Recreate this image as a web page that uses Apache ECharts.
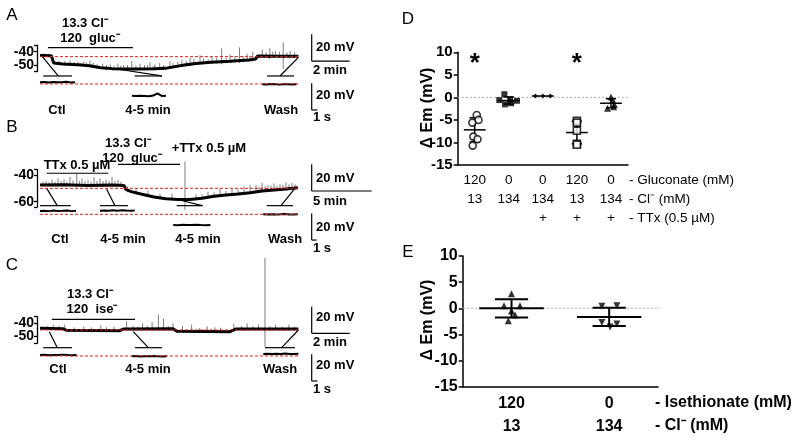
<!DOCTYPE html>
<html>
<head>
<meta charset="utf-8">
<script src="https://cdn.jsdelivr.net/npm/echarts@6.0.0/dist/echarts.min.js"></script>
<style>
html,body{margin:0;padding:0;background:#fff;}
#chart{width:800px;height:440px;}
</style>
</head>
<body>
<div id="chart"></div>
<script>
// ================= DATA =================
// Panel A: Em trace (time in min, Em in mV)
const traceA_t = [0, 0.6, 0.72, 1.2, 2.0, 2.6, 3.2, 3.8, 5.0, 6.0, 6.6, 7.1, 7.6, 8.2, 9.0, 10.0, 11.0, 11.35, 11.45, 12.5, 13.6];
const traceA_v = [-42.8, -43.0, -48.5, -49.2, -49.8, -50.5, -52.0, -52.7, -53.0, -52.8, -52.5, -51.2, -50.0, -48.8, -48.0, -47.2, -46.3, -45.5, -43.3, -43.4, -43.5];
// spontaneous events: [time, top mV, bottom mV]
const spikesA = [[0.2,-41.0,-44.0],[0.45,-41.5,-43.8],[1.0,-46.8,-50.0],[1.3,-47.0,-50.5],[1.58,-46.5,-50.5],[1.8,-47.8,-51.0],[2.0,-47.5,-51.0],[2.15,-48.5,-51.0],[2.3,-47.5,-51.0],[2.45,-48.0,-51.5],[2.63,-46.5,-51.5],[2.8,-48.0,-52.0],[3.0,-49.5,-52.5],[3.3,-49.0,-53.0],[3.5,-50.0,-54.0],[3.7,-49.5,-53.5],[3.9,-50.5,-54.0],[4.1,-49.0,-54.0],[4.25,-50.5,-54.0],[4.4,-50.0,-54.0],[4.6,-50.0,-54.0],[4.83,-47.0,-54.0],[5.05,-50.5,-54.0],[5.26,-49.0,-54.0],[5.5,-50.0,-54.0],[5.65,-50.0,-54.0],[5.79,-48.0,-54.0],[5.95,-50.5,-54.0],[6.05,-49.5,-54.0],[6.3,-48.5,-53.5],[6.5,-50.0,-53.5],[6.84,-47.0,-53.0],[7.0,-48.5,-52.5],[7.25,-47.5,-52.0],[7.47,-46.0,-51.3],[7.7,-47.0,-51.0],[7.9,-44.5,-51.0],[8.1,-45.5,-50.0],[8.42,-42.5,-49.5],[8.6,-45.0,-49.5],[8.85,-45.5,-49.3],[9.05,-44.0,-49.0],[9.3,-44.5,-49.0],[9.56,-37.6,-49.5],[9.8,-44.5,-48.5],[10.0,-42.0,-48.2],[10.25,-43.5,-48.0],[10.5,-36.7,-48.5],[10.7,-43.5,-47.5],[10.9,-41.5,-47.5],[11.05,-43.0,-47.3],[11.2,-40.0,-47.3],[11.7,-38.5,-44.5],[11.9,-40.5,-44.5],[12.1,-37.5,-45.5],[12.25,-40.0,-44.5],[12.4,-39.5,-44.5],[12.6,-40.0,-44.5],[12.8,-33.0,-53.0],[13.0,-40.5,-44.5],[13.16,-39.5,-44.5],[13.4,-40.5,-44.5]];
const insetA_ctl  = [-42.5,-42.3,-42.6,-42.2,-42.5,-42.4,-42.1,-42.6,-42.4];
const insetA_mid  = [-52.6,-52.8,-52.5,-52.7,-52.9,-52.4,-50.8,-52.7,-52.6];
const insetA_wash = [-43.9,-44.1,-43.8,-44.0,-44.2,-43.9,-44.0,-44.1,-43.9];
const baseA = -43.7;

// Panel B
const traceB_t = [0, 2, 4, 6, 7.0, 7.15, 7.6, 8.5, 9.5, 10.5, 11.5, 12.5, 13.5, 14.5, 15.5, 16.5, 17.5, 18.5, 19.5, 20.5, 21.5];
const traceB_v = [-47.5, -47.3, -47.8, -47.5, -47.8, -50.8, -52.5, -54.5, -56.5, -57.8, -58.3, -58.3, -57.5, -56.0, -55.0, -54.3, -53.3, -52.0, -51.3, -50.5, -49.5];
const spikesB = [[0.25,-45.0,-48.5],[0.5,-44.5,-48.5],[0.75,-45.5,-48.5],[1.0,-43.5,-48.5],[1.25,-45.0,-48.5],[1.5,-42.5,-48.5],[1.75,-44.5,-48.5],[2.0,-43.3,-48.5],[2.25,-45.0,-48.5],[2.5,-41.5,-48.5],[2.75,-44.0,-48.5],[3.06,-38.5,-49.0],[3.3,-44.5,-48.5],[3.5,-42.5,-48.5],[3.75,-44.5,-49.0],[4.0,-43.8,-49.0],[4.25,-45.0,-49.0],[4.5,-41.5,-49.0],[4.75,-44.5,-49.0],[5.0,-42.5,-48.5],[5.25,-44.5,-48.5],[5.5,-43.5,-48.5],[5.75,-44.5,-48.5],[6.0,-41.5,-48.5],[6.25,-44.5,-48.5],[6.5,-43.5,-48.5],[6.75,-45.0,-48.5],[7.3,-48.5,-53.0],[8.0,-50.5,-54.5],[9.0,-51.5,-56.5],[10.0,-54.0,-58.0],[11.0,-54.0,-59.0],[12.08,-30.0,-66.3],[13.0,-54.5,-58.8],[13.5,-54.5,-58.5],[14.0,-52.5,-57.5],[14.5,-53.0,-57.0],[15.0,-50.0,-56.5],[15.5,-52.0,-56.0],[16.0,-50.5,-55.5],[16.5,-51.0,-55.0],[17.0,-48.5,-54.8],[17.5,-47.3,-54.3],[18.0,-47.5,-53.5],[18.25,-49.0,-53.0],[18.5,-46.0,-53.0],[18.75,-48.5,-52.5],[19.0,-47.5,-52.5],[19.25,-48.0,-52.3],[19.5,-46.3,-52.3],[19.75,-48.0,-52.0],[20.0,-47.0,-51.5],[20.25,-47.5,-51.5],[20.5,-45.5,-51.5],[20.75,-47.0,-51.0],[21.0,-46.0,-50.5],[21.25,-47.0,-50.5]];
const insetB_ctl  = [-47.5,-47.3,-47.6,-47.2,-47.5,-47.4,-47.1,-47.6,-47.4];
const insetB_ttx  = [-47.3,-47.1,-47.4,-47.0,-47.3,-46.9,-47.2,-47.4,-47.2];
const insetB_mid  = [-58.0,-58.2,-57.9,-58.1,-58.0,-57.8,-58.1,-58.2,-58.0];
const insetB_wash = [-50.0,-50.2,-49.9,-50.1,-50.0,-49.8,-50.1,-50.2,-50.0];
const baseB = -50.0;

// Panel C
const traceC_t = [0, 1.2, 1.4, 4.2, 4.4, 7.0, 7.2, 10.0, 10.3, 13.6];
const traceC_v = [-43.8, -44.0, -45.3, -45.5, -44.2, -44.0, -46.0, -46.3, -44.3, -44.2];
const spikesC = [[0.4,-42.0,-45.0],[0.7,-41.0,-45.0],[1.0,-42.0,-45.0],[1.3,-41.0,-45.0],[1.8,-43.0,-46.5],[2.3,-42.5,-46.5],[2.7,-43.0,-46.5],[3.2,-41.5,-46.5],[3.5,-43.0,-46.5],[3.9,-42.5,-46.5],[4.56,-38.5,-45.5],[4.9,-42.0,-45.5],[5.15,-42.5,-45.0],[5.4,-40.0,-45.0],[5.65,-42.0,-45.0],[5.9,-39.0,-45.0],[6.23,-33.3,-45.5],[6.5,-36.5,-45.0],[6.75,-42.0,-45.0],[7.0,-40.0,-45.0],[7.5,-42.0,-47.0],[7.98,-41.0,-47.3],[8.4,-43.5,-47.3],[8.8,-42.3,-47.3],[9.2,-43.0,-47.3],[9.5,-43.3,-47.3],[10.2,-40.3,-45.3],[10.6,-42.0,-45.3],[10.9,-40.0,-45.2],[11.2,-42.0,-45.2],[11.5,-41.0,-45.2],[11.84,9.0,-57.5],[12.1,-42.0,-45.2],[12.4,-41.2,-45.2],[12.75,-42.5,-45.2],[13.1,-41.0,-45.2],[13.4,-42.5,-45.2]];
const insetC_ctl  = [-44.3,-44.1,-44.4,-44.2,-44.3,-44.0,-44.3,-44.4,-44.2];
const insetC_mid  = [-45.3,-45.1,-45.4,-45.2,-45.3,-45.0,-45.3,-45.4,-45.2];
const insetC_wash = [-43.5,-43.3,-43.6,-43.4,-43.5,-43.2,-43.5,-43.6,-43.4];
const baseC = -45.0;

// Mini Em axes tick labels (mV)
const tickLabelsA = [-40, -50];
const tickLabelsB = [-40, -60];
const tickLabelsC = [-40, -50];

// Panel D: change in Em (mV)
const dCategories = ['120\n13\n', '0\n134\n', '0\n134\n+', '120\n13\n+', '0\n134\n+'];
const dRowLabels = ['- Gluconate (mM)', '- Cl\u207B (mM)', '- TTx (0.5 \u00B5M)'];
const dGluc    = [-3.9, -5.0, -5.6, -8.7, -9.3, -10.7];
const dCl      = [0.7, -0.6, -0.45, -0.75, -1.55, -1.3];
const dCl_TTx  = [0.3, 0.3, 0.3];
const dGluc_TTx= [-5.2, -5.6, -7.4, -10.3, -10.5];
const dCl_TTx2 = [0.1, -0.6, -1.6, -2.1, -2.4];
const dMean = [-7.2, -0.7, 0.3, -7.8, -1.3];
const dSd   = [2.7, 0.8, 0, 2.5, 1.0];
const dSignif = [0, 3];

// Panel E
const eCategories = ['120\n13', '0\n134'];
const eRowLabels = ['- Isethionate (mM)', '- Cl\u207B (mM)'];
const eIse = [2.8, 0.5, 0.5, -0.5, -1.3, -2.4];
const eCl  = [0.4, 0.5, -2.7, -3.0, -3.6];
const eMean = [0.0, -1.65];
const eSd   = [1.75, 1.75];

// ================= LAYOUT / STYLE =================
const F = '"Liberation Sans", Arial, Helvetica, sans-serif';
const L = {
  A: {x0:40, pxPerMin:19, yRefPx:51.7, yRefMv:-40, pxPerMv:1.333, left:36, right:385, top:28, bottom:125},
  B: {x0:40, pxPerMin:12, yRefPx:175, yRefMv:-40, pxPerMv:1.333, left:36, right:385, top:140, bottom:252},
  C: {x0:40, pxPerMin:19, yRefPx:323.3, yRefMv:-40, pxPerMv:1.333, left:36, right:385, top:252, bottom:395}
};
const insetOffset = {A:-20.5, B:-19.5, C:-19.5};
const insetSpans = {
  A: [[0,1.84],[4.84,6.63],[11.7,13.5]],
  B: [[0,3.0],[5.0,7.9],[11.1,14.2],[18.6,21.5]],
  C: [[0,1.93],[4.83,6.67],[11.75,13.6]]
};
// annotation segments [t1, mV1, t2, mV2] (solution bars, inset brackets, connectors, scale bars)
const annot = {
  A: [[0.42,-37,4.89,-37],
      [0.17,-58.2,1.68,-58.2],[4.98,-58.2,6.42,-58.2],[11.95,-58.2,13.37,-58.2],
      [0.09,-43.2,0.96,-58.2],[4.04,-53,6.4,-58.2],[13.6,-44.2,12.63,-58.2],
      [14.3,-27,14.3,-47],[14.3,-47,16.3,-47],
      [14.3,-63.7,14.3,-83.7],[14.3,-83.7,14.6,-83.7]],
  B: [[0.56,-38.7,5.69,-38.7],[6.5,-32,11.67,-32],
      [0,-63,2.56,-63],[5,-63,7.33,-63],[11.39,-63,13.58,-63],[18.89,-63,21.08,-63],
      [0.56,-50,1.44,-63],[5.56,-50.7,6.25,-63],[11.5,-58.4,13.5,-63],[21.25,-50,20.08,-63],
      [22.64,-32,22.64,-52],[22.64,-52,27.64,-52],
      [22.64,-68.8,22.64,-88.8],[22.64,-88.8,23.05,-88.8]],
  C: [[0.62,-37,5.0,-37],
      [0.17,-58.3,1.68,-58.3],[5,-58.3,6.42,-58.3],[11.84,-58.3,13.42,-58.3],
      [0.49,-46.3,0.91,-58.3],[4.91,-46.3,5.7,-58.3],[13.6,-45,12.72,-58.3],
      [14.3,-27.5,14.3,-47.5],[14.3,-47.5,16.3,-47.5],
      [14.3,-63.3,14.3,-83.3],[14.3,-83.3,14.6,-83.3]]
};

function gridOf(p){ return {left:p.left, top:p.top, width:p.right-p.left, height:p.bottom-p.top}; }
function xRange(p){ return [(p.left-p.x0)/p.pxPerMin, (p.right-p.x0)/p.pxPerMin]; }
function yRange(p){ return [p.yRefMv-(p.bottom-p.yRefPx)/p.pxPerMv, p.yRefMv+(p.yRefPx-p.top)/p.pxPerMv]; }
function mvToPx(p, v){ return p.yRefPx-(v-p.yRefMv)*p.pxPerMv; }
function miniGrid(p, lo, hi){
  const top = mvToPx(p, hi), bot = mvToPx(p, lo);
  return {left:37, width:1, top:top, height:bot-top};
}
const zip = (a,b)=>a.map((v,i)=>[v,b[i]]);

const grids = [gridOf(L.A), gridOf(L.B), gridOf(L.C),
  miniGrid(L.A,-55,-35), miniGrid(L.B,-64,-36), miniGrid(L.C,-55,-35),
  {left:457.7, top:52.3, width:170.3, height:112.7},
  {left:462.7, top:256, width:195.3, height:130.7}];

const xAxes = [], yAxes = [];
['A','B','C'].forEach((k,i)=>{
  const xr = xRange(L[k]), yr = yRange(L[k]);
  xAxes.push({gridIndex:i, type:'value', min:xr[0], max:xr[1], show:false});
  yAxes.push({gridIndex:i, type:'value', min:yr[0], max:yr[1], show:false});
});
const miniSpec = [[-55,-35,[-35,-40,-50,-55]],[-64,-36,[-36,-40,-60,-64]],[-55,-35,[-35,-40,-50,-55]]];
miniSpec.forEach((m,i)=>{
  xAxes.push({gridIndex:3+i, type:'value', min:0, max:1, show:false});
  yAxes.push({gridIndex:3+i, type:'value', min:m[0], max:m[1], position:'left',
    axisLine:{show:true, onZero:false, lineStyle:{color:'#000', width:1.3}},
    axisTick:{show:true, length:3, customValues:m[2], lineStyle:{color:'#000', width:1.3}},
    axisLabel:{show:false}, splitLine:{show:false}});
});
// D axes
xAxes.push({gridIndex:6, type:'category', position:'bottom', data:dCategories, boundaryGap:true,
  axisLine:{onZero:false, lineStyle:{color:'#000', width:1.5}}, axisTick:{show:false},
  axisLabel:{interval:0, color:'#000', fontSize:13.5, fontFamily:F, lineHeight:19, margin:6}});
xAxes.push({gridIndex:6, type:'value', min:-0.5, max:4.5, show:false});
yAxes.push({gridIndex:6, type:'value', min:-15, max:10, interval:5,
  axisLine:{show:true, onZero:false, lineStyle:{color:'#000', width:1.5}},
  axisTick:{show:true, length:4, lineStyle:{color:'#000', width:1.5}},
  axisLabel:{color:'#000', fontSize:15, fontWeight:'bold', fontFamily:F, margin:5}, splitLine:{show:false}});
// E axes
xAxes.push({gridIndex:7, type:'category', position:'bottom', data:eCategories, boundaryGap:true,
  axisLine:{onZero:false, lineStyle:{color:'#000', width:1.5}}, axisTick:{show:false},
  axisLabel:{interval:0, color:'#000', fontSize:16, fontWeight:'bold', fontFamily:F, lineHeight:23, margin:5}});
xAxes.push({gridIndex:7, type:'value', min:-0.5, max:1.5, show:false});
yAxes.push({gridIndex:7, type:'value', min:-15, max:10, interval:5,
  axisLine:{show:true, onZero:false, lineStyle:{color:'#000', width:1.5}},
  axisTick:{show:true, length:4, lineStyle:{color:'#000', width:1.5}},
  axisLabel:{color:'#000', fontSize:16, fontWeight:'bold', fontFamily:F, margin:5}, splitLine:{show:false}});

const series = [];
function segSeries(ai, segs, color, width, z){
  return {type:'custom', xAxisIndex:ai, yAxisIndex:ai, silent:true, z:z||4, data:segs,
    renderItem:(p,api)=>{
      const a = api.coord([api.value(0), api.value(1)]), b = api.coord([api.value(2), api.value(3)]);
      return {type:'line', shape:{x1:a[0],y1:a[1],x2:b[0],y2:b[1]}, style:{stroke:color, lineWidth:width}};
    }};
}
function spikeSeries(ai, spikes){
  return {type:'custom', xAxisIndex:ai, yAxisIndex:ai, silent:true, z:2, data:spikes,
    renderItem:(p,api)=>{
      const a = api.coord([api.value(0), api.value(1)]), b = api.coord([api.value(0), api.value(2)]);
      return {type:'line', shape:{x1:a[0],y1:a[1],x2:b[0],y2:b[1]}, style:{stroke:'#707070', lineWidth:0.9}};
    }};
}
function lineSeries(ai, data, color, width, z, type){
  return {type:'line', xAxisIndex:ai, yAxisIndex:ai, data:data, symbol:'none', silent:true, clip:false, z:z||3,
    lineStyle:{color:color, width:width, type:type||'solid'}, animation:false};
}
const panels = [
  ['A', traceA_t, traceA_v, spikesA, [insetA_ctl, insetA_mid, insetA_wash], baseA],
  ['B', traceB_t, traceB_v, spikesB, [insetB_ctl, insetB_ttx, insetB_mid, insetB_wash], baseB],
  ['C', traceC_t, traceC_v, spikesC, [insetC_ctl, insetC_mid, insetC_wash], baseC]
];
panels.forEach((pn, ai)=>{
  const k = pn[0];
  const tr = zip(pn[1], pn[2]);
  const endT = pn[1][pn[1].length-1];
  series.push(spikeSeries(ai, pn[3]));
  series.push(lineSeries(ai, tr, '#000', 3, 3));
  series.push(segSeries(ai, annot[k], '#000', 1.2, 4));
  pn[4].forEach((vals, j)=>{
    const sp = insetSpans[k][j];
    const d = vals.map((v,i)=>[sp[0]+(sp[1]-sp[0])*i/(vals.length-1), v+insetOffset[k]]);
    series.push(lineSeries(ai, d, '#000', 2, 3));
  });
  series.push(lineSeries(ai, [[0,pn[5]],[endT,pn[5]]], '#e0201c', 1, 5, [3,2]));
  series.push(lineSeries(ai, [[0,pn[5]+insetOffset[k]],[endT,pn[5]+insetOffset[k]]], '#e0201c', 1, 5, [3,2]));
});

// D / E scatter + stats
function statsSeries(xi, yi, means, sds, meanHW, capHW, lw){
  return {type:'custom', xAxisIndex:xi, yAxisIndex:yi, silent:true, z:3,
    data: means.map((m,i)=>[i,m,sds[i]]),
    renderItem:(p,api)=>{
      const i=api.value(0), m=api.value(1), s=api.value(2);
      const c=(x,y)=>api.coord([x,y]);
      const ln=(a,b)=>({type:'line', shape:{x1:a[0],y1:a[1],x2:b[0],y2:b[1]}, style:{stroke:'#000', lineWidth:lw}});
      const ch=[ln(c(i-meanHW,m), c(i+meanHW,m))];
      if (s>0){ ch.push(ln(c(i,m-s),c(i,m+s)), ln(c(i-capHW,m+s),c(i+capHW,m+s)), ln(c(i-capHW,m-s),c(i+capHW,m-s))); }
      return {type:'group', children:ch};
    }};
}
function scatter(xi, yi, g, vals, jitter, symbol, size, open, rotate){
  return {type:'scatter', xAxisIndex:xi, yAxisIndex:yi, z:4, silent:true,
    data: vals.map((v,i)=>[g+jitter[i], v]), symbol:symbol, symbolSize:size, symbolRotate:rotate||0,
    itemStyle: open ? {color:'#fff', borderColor:'#000', borderWidth:1.6} : {color:'#000'}};
}
const dJit1 = [0.06,0.11,-0.07,-0.04,0.08,-0.06];
const dJit2 = [-0.13,-0.28,0.04,0.24,-0.11,0.07];
const dJit3 = [-0.22,0,0.22];
const dJit4 = [0,0,0,0,0];
const dJit5 = [0,0.05,0.1,0.08,-0.1];
const eJit1 = [0,-0.077,0.087,0,0.036,-0.033];
const eJit2 = [-0.075,0.079,-0.075,0.079,0.01];

series.push({type:'line', xAxisIndex:7, yAxisIndex:6, data:[[-0.5,0],[4.5,0]], symbol:'none', silent:true, z:1,
  lineStyle:{color:'#aaa', width:1, type:[2,2]}});
series.push(statsSeries(7,6,dMean,dSd,0.32,0.15,1.5));
series.push(scatter(7,6,0,dGluc,dJit1,'circle',7,true));
series.push(scatter(7,6,1,dCl,dJit2,'rect',6,false));
series.push(scatter(7,6,2,dCl_TTx,dJit3,'diamond',5,false));
series.push(scatter(7,6,3,dGluc_TTx,dJit4,'rect',7,true));
series.push(scatter(7,6,4,dCl_TTx2,dJit5,'triangle',7,false));
series.push({type:'custom', xAxisIndex:7, yAxisIndex:6, silent:true, z:5,
  data: dSignif.map(g=>[g, 8.7]),
  renderItem:(p,api)=>{ const c=api.coord([api.value(0), api.value(1)]);
    return {type:'text', x:c[0], y:c[1]+6, style:{text:'*', font:'bold 26px '+F, fill:'#000', align:'center', verticalAlign:'middle'}}; }});

series.push({type:'line', xAxisIndex:9, yAxisIndex:7, data:[[-0.5,0],[1.55,0]], symbol:'none', silent:true, z:1, clip:false,
  lineStyle:{color:'#aaa', width:1, type:[2,2]}});
series.push(statsSeries(9,7,eMean,eSd,0.33,0.17,2));
series.push(scatter(9,7,0,eIse,eJit1,'triangle',7,false));
series.push(scatter(9,7,1,eCl,eJit2,'triangle',7,false,180));

// text annotations
function txt(text, x, y, size, weight, align, rot){
  const o = {type:'text', x:x, y:y, silent:true, z:10,
    style:{text:text, font:(weight||'bold')+' '+size+'px '+F, fill:'#000', align:align||'center', verticalAlign:'middle'}};
  if (rot) o.rotation = rot;
  return o;
}
const graphic = [
  txt('A',12,15,17,'normal'), txt('B',12,127,17,'normal'), txt('C',12,265,17,'normal'),
  txt('D',408,19,17,'normal'), txt('E',408,252,17,'normal'),
  // A
  txt('13.3 Cl\u207B',85,23,13), txt('120  gluc\u207B',90,38,13),
  txt('Ctl',57,110,13), txt('4-5 min',148,110,13), txt('Wash',281,110,13),
  txt('20 mV',316,47,13,'bold','left'), txt('2 min',313,70,13,'bold','left'),
  txt('20 mV',316,95,13,'bold','left'), txt('1 s',313,117,13,'bold','left'),
  // B
  txt('13.3 Cl\u207B',128,143,13), txt('120  gluc\u207B',132,158,13), txt('+TTx 0.5 \u00B5M',209,148,13),
  txt('TTx 0.5 \u00B5M',77,165,13),
  txt('Ctl',60,239,13), txt('4-5 min',123,239,13), txt('4-5 min',198,239,13), txt('Wash',285,239,13),
  txt('20 mV',316,178,13,'bold','left'), txt('5 min',313,201,13,'bold','left'),
  txt('20 mV',316,227,13,'bold','left'), txt('1 s',313,248,13,'bold','left'),
  // C
  txt('13.3 Cl\u207B',90,294,13), txt('120  ise\u207B',92,309,13),
  txt('Ctl',58,369,13), txt('4-5 min',148,369,13), txt('Wash',280,369,13),
  txt('20 mV',316,317,13,'bold','left'), txt('2 min',313,342,13,'bold','left'),
  txt('20 mV',316,365,13,'bold','left'), txt('1 s',313,389,13,'bold','left'),
  // D
  txt('\u0394 Em (mV)',428,108,16,'bold','center',Math.PI/2),
  txt(dRowLabels[0],629,180,13.5,'normal','left'), txt(dRowLabels[1],629,199.5,13.5,'normal','left'), txt(dRowLabels[2],629,218.5,13.5,'normal','left'),
  // E
  txt('\u0394 Em (mV)',428,320,16,'bold','center',Math.PI/2),
  txt(eRowLabels[0],655,402.7,16,'bold','left'), txt(eRowLabels[1],655,425.7,16,'bold','left')
];
// Em tick labels of the small trace axes, placed with the same mV->px mapping as the traces
[[L.A, tickLabelsA], [L.B, tickLabelsB], [L.C, tickLabelsC]].forEach(([p, ticks])=>{
  ticks.forEach(v=>graphic.push(txt(String(v), 34, mvToPx(p, v), 14, 'bold', 'right')));
});

const chart = echarts.init(document.getElementById('chart'), null, {renderer:'canvas'});
chart.setOption({animation:false, backgroundColor:'#fff', grid:grids, xAxis:xAxes, yAxis:yAxes, series:series, graphic:graphic});
</script>
</body>
</html>
